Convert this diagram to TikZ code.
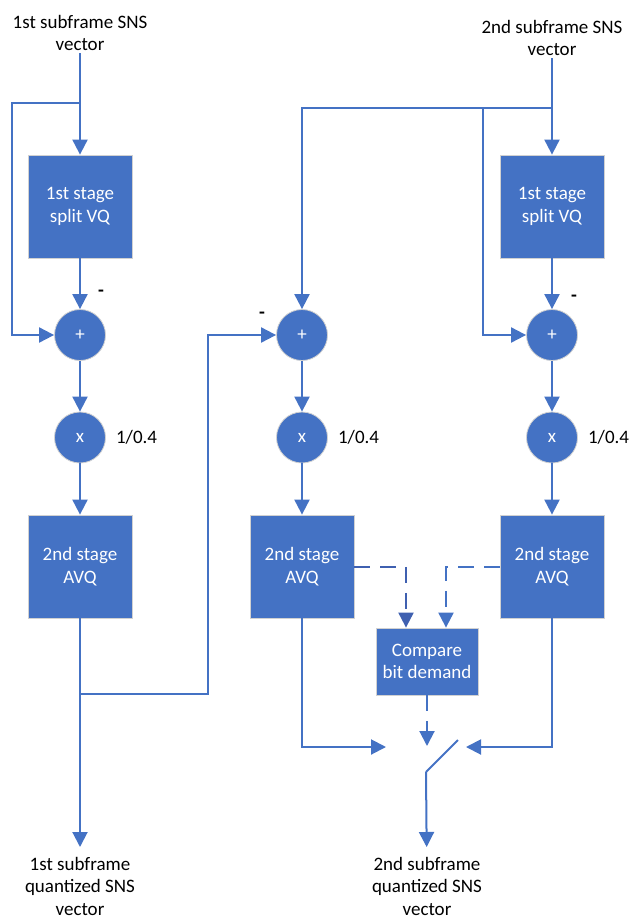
\documentclass[tikz,border=0pt]{standalone}
\usepackage{fontspec}
\setmainfont{Carlito}
\usepackage{tikz}
\usepackage{xcolor}
\usetikzlibrary{arrows.meta,positioning}
\definecolor{vqblue}{HTML}{4472C4}
\definecolor{vqdark}{HTML}{3F60B0}

\begin{document}
\begin{tikzpicture}[
      x=1pt,y=-1pt,
      font=\fontsize{19}{22.5}\selectfont,
      node distance=8pt,
      box/.style={rectangle,draw=black!18,line width=0.8pt,fill=vqblue,text=white,align=center,inner sep=0pt,minimum width=104pt,minimum height=103pt},
      cmpbox/.style={box,minimum width=102pt,minimum height=67pt},
      op/.style={circle,draw=black!18,line width=0.8pt,fill=vqblue,text=white,inner sep=0pt,minimum size=51pt},
      lbl/.style={align=center,inner sep=2pt},
      arrow/.style={-{Triangle[length=15pt,width=15pt]},draw=vqblue,line width=2pt},
      line/.style={draw=vqblue,line width=2pt},
      dasharrow/.style={arrow,dash pattern=on 16pt off 10pt}
    ]
    \useasboundingbox (0,0) rectangle (629,921);
    % first subframe
    \node[lbl,anchor=south] (in1) at (80,53) {1st subframe SNS\\vector};
    \node[box] (vq1) at (80,206.5) {1st stage\\split VQ};
    \node[op] (sum1) at (80,335) {+};
    \node[op] (mul1) at (80,437.5) {x};
    \node[lbl,right=of mul1] (g1) {1/0.4};
    \node[box] (avq1) at (80,566.5) {2nd stage\\AVQ};
    \node[lbl,anchor=north] (out1) at (80,855) {1st subframe\\quantized SNS\\vector};
    \node[lbl] (m1) at (101,293) {\textbf{-}};
    % second subframe
    \node[lbl,anchor=south] (in2) at (552,58) {2nd subframe SNS\\vector};
    \node[box] (vq2) at (552,206.5) {1st stage\\split VQ};
    \node[op] (sum2) at (302,335) {+};
    \node[op] (sum3) at (552,335) {+};
    \node[op] (mul2) at (302,437.5) {x};
    \node[op] (mul3) at (552,437.5) {x};
    \node[lbl,right=of mul2] (g2) {1/0.4};
    \node[lbl,right=of mul3] (g3) {1/0.4};
    \node[box] (avq2) at (302,566.5) {2nd stage\\AVQ};
    \node[box] (avq3) at (552,566.5) {2nd stage\\AVQ};
    \node[cmpbox] (cmp) at (427,661.5) {Compare\\bit demand};
    \node[lbl,anchor=north] (out2) at (427,855) {2nd subframe\\quantized SNS\\vector};
    \node[lbl] (m2) at (262,315) {\textbf{-}};
    \node[lbl] (m3) at (574,298) {\textbf{-}};
    % corners and switch
    \coordinate (j1) at (80,103);
    \coordinate (c1) at (12,103);
    \coordinate (j2) at (80,694);
    \coordinate (c2) at (208,694);
    \coordinate (j3) at (552,108);
    \coordinate (c3) at (302,108);
    \coordinate (c4) at (483,108);
    \coordinate (swl) at (386,747);
    \coordinate (swr) at (466,747);
    \coordinate (swc) at (427,746);
    \coordinate (swb) at (426,772);
    \coordinate (swt) at (458,740);
    % connectors
    \draw[arrow] (in1) -- (vq1);
    \draw[arrow] (j1) -- (c1) |- (sum1);
    \draw[arrow] (vq1) -- (sum1);
    \draw[arrow] (sum1) -- (mul1);
    \draw[arrow] (mul1) -- (avq1);
    \draw[arrow,shorten >=8pt] (avq1) -- (out1);
    \draw[arrow] (j2) -- (c2) |- (sum2);
    \draw[arrow] (in2) -- (vq2);
    \draw[arrow] (j3) -- (c3) -- (sum2);
    \draw[arrow] (c4) |- (sum3);
    \draw[arrow] (vq2) -- (sum3);
    \draw[arrow] (sum2) -- (mul2);
    \draw[arrow] (sum3) -- (mul3);
    \draw[arrow] (mul2) -- (avq2);
    \draw[arrow] (mul3) -- (avq3);
    \draw[dasharrow,draw=vqdark] (avq2) -| ([xshift=-21pt]cmp.north);
    \draw[dasharrow] (avq3) -| ([xshift=19pt]cmp.north);
    \draw[dasharrow] (cmp) -- (swc);
    \draw[arrow] (avq2) |- (swl);
    \draw[arrow] (avq3) |- (swr);
    \draw[line] (swb) -- (swt);
    \draw[arrow,shorten >=8pt] (swb) -- (out2);
  \end{tikzpicture}
\end{document}
